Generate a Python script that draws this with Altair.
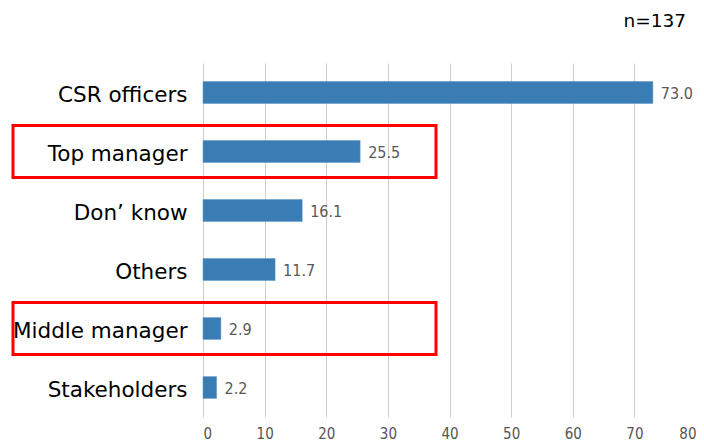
import altair as alt
import pandas as pd

categories = ["CSR officers", "Top manager", "Don\u2019 know", "Others", "Middle manager", "Stakeholders"]
values = [73.0, 25.5, 16.1, 11.7, 2.9, 2.2]
highlighted = ["Top manager", "Middle manager"]
x_ticks = [0, 10, 20, 30, 40, 50, 60, 70, 80]

df = pd.DataFrame({"cat": categories, "val": values})
df["label"] = [f"{v:.1f}" for v in values]
hl = pd.DataFrame({"cat": highlighted})

NARROW = "'DejaVu Sans Condensed', 'Liberation Sans Narrow', Roboto, sans-serif"

y_scale = alt.Scale(domain=categories, paddingInner=0.63, paddingOuter=0.315)
x_scale = alt.Scale(domain=[0, 80], nice=False)

bars = alt.Chart(df).mark_bar(color="#3a7db5", stroke="#5a93c4", strokeWidth=0.5).encode(
    y=alt.Y("cat:N", scale=y_scale, sort=categories, title=None,
            axis=alt.Axis(labelFont="DejaVu Sans", labelFontSize=21.5, labelColor="#000000",
                          labelPadding=16, labelOffset=3, ticks=False, domain=False, grid=False,
                          labelLimit=300)),
    x=alt.X("val:Q", scale=x_scale, title=None,
            axis=alt.Axis(values=x_ticks, grid=True, gridColor="#cfcfcf", gridWidth=1,
                          domain=False, ticks=False, labelFont=NARROW,
                          labelFontSize=15, labelColor="#555555", labelPadding=9)),
)

text = alt.Chart(df).mark_text(align="left", baseline="middle", dx=8, dy=1,
                               font=NARROW, fontSize=16,
                               color="#595959").encode(
    y=alt.Y("cat:N", scale=y_scale, sort=categories),
    x=alt.X("val:Q", scale=x_scale),
    text="label:N",
)

boxes = alt.Chart(hl).mark_bar(filled=False, stroke="#ff0000", strokeWidth=3,
                               height=52, clip=False).encode(
    y=alt.Y("cat:N", scale=y_scale, sort=categories),
    x=alt.value(-190),
    x2=alt.value(233),
)

chart = alt.layer(bars, text, boxes).properties(
    width=493, height=354,
    padding={"left": 195, "top": 55, "right": 0, "bottom": 28},
    autosize=alt.AutoSizeParams(type="none"),
    title=alt.TitleParams("n=137", anchor="end", fontSize=18.5, fontWeight="normal",
                          font="DejaVu Sans", color="#000000", offset=33, dx=-10),
).configure_view(stroke=None)

chart.save("out.html", embed_options={"renderer": "svg", "actions": False})
